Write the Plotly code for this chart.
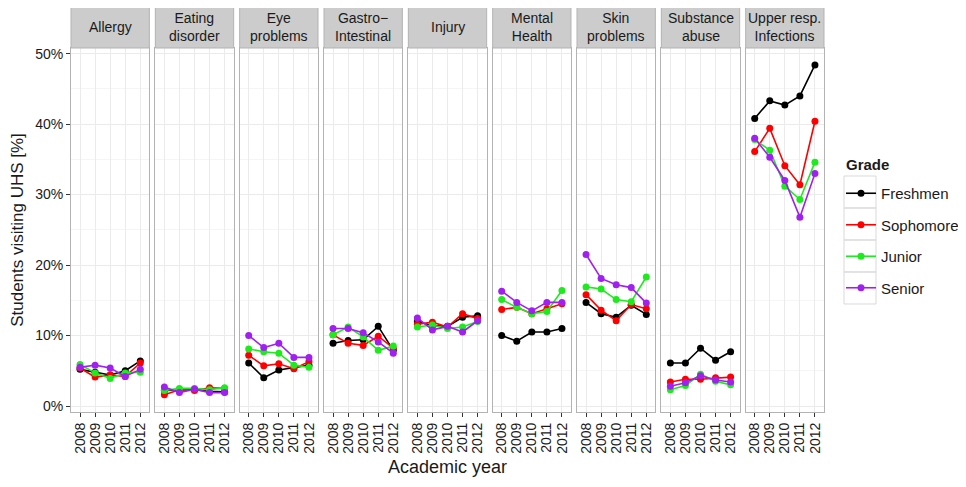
import plotly.graph_objects as go
from plotly.subplots import make_subplots

years = [2008, 2009, 2010, 2011, 2012]
year_labels = ["2008", "2009", "2010", "2011", "2012"]

categories = ["Allergy", "Eating<br>disorder", "Eye<br>problems", "Gastro\u2212<br>Intestinal",
              "Injury", "Mental<br>Health", "Skin<br>problems", "Substance<br>abuse",
              "Upper resp.<br>Infections"]

grades = ["Freshmen", "Sophomore", "Junior", "Senior"]
grade_colors = ["#000000", "#FF0000", "#1EEB1E", "#A020F0"]

# values in percent, one list per category, per grade
freshmen = [
    [5.2, 4.8, 4.4, 5.0, 6.4],
    [2.2, 2.2, 2.3, 2.1, 2.0],
    [6.1, 4.0, 5.1, 5.4, 5.8],
    [8.9, 9.3, 9.4, 11.3, 7.9],
    [12.0, 11.4, 11.3, 12.6, 12.8],
    [10.0, 9.2, 10.5, 10.5, 11.0],
    [14.7, 13.1, 12.6, 14.3, 13.0],
    [6.1, 6.1, 8.2, 6.5, 7.7],
    [40.8, 43.3, 42.7, 44.0, 48.4],
]
sophomore = [
    [5.4, 4.1, 4.4, 4.2, 6.1],
    [1.6, 2.3, 2.2, 2.6, 2.5],
    [7.2, 5.7, 6.0, 5.3, 6.3],
    [10.1, 8.9, 8.6, 9.9, 8.2],
    [11.6, 11.9, 11.2, 13.1, 12.4],
    [13.7, 14.0, 13.1, 13.8, 14.5],
    [15.8, 13.6, 12.1, 14.4, 13.8],
    [3.4, 3.8, 3.8, 4.0, 4.1],
    [36.1, 39.4, 34.1, 31.4, 40.4],
]
junior = [
    [5.9, 4.7, 3.9, 4.7, 4.8],
    [2.2, 2.5, 2.5, 2.3, 2.6],
    [8.1, 7.7, 7.5, 5.8, 5.5],
    [10.1, 11.2, 9.8, 7.9, 8.5],
    [11.2, 11.5, 11.0, 11.2, 12.0],
    [15.1, 14.0, 13.1, 13.4, 16.4],
    [16.9, 16.6, 15.1, 14.8, 18.3],
    [2.3, 2.9, 4.5, 3.5, 3.0],
    [37.8, 36.3, 31.2, 29.3, 34.6],
]
senior = [
    [5.5, 5.8, 5.4, 4.2, 5.2],
    [2.7, 1.9, 2.4, 1.9, 1.9],
    [10.0, 8.3, 8.9, 6.9, 6.9],
    [11.0, 11.0, 10.4, 9.1, 7.5],
    [12.5, 10.8, 11.3, 10.5, 12.1],
    [16.3, 14.7, 13.5, 14.7, 14.7],
    [21.5, 18.1, 17.2, 16.8, 14.6],
    [2.8, 3.3, 4.3, 3.7, 3.4],
    [38.0, 35.3, 32.0, 26.8, 33.0],
]
series = [freshmen, sophomore, junior, senior]

y_ticks = [0, 10, 20, 30, 40, 50]
y_tick_labels = ["0%", "10%", "20%", "30%", "40%", "50%"]

FONT = "Liberation Sans, Arial, Helvetica, sans-serif"
OFF = 8  # page body margin
W, H = 966 - OFF, 487 - OFF
# plot area in page coordinates: x 71..824, y 48..412
L = 71 - OFF
T = 48 - OFF
R = W - (824 - OFF)
B = H - (412 - OFF)
pw = W - L - R
ph = H - T - B
ncol = len(categories)


def px_x(x_page):
    return (x_page - OFF - L) / pw


def px_y(y_page):
    return 1 - (y_page - OFF - T) / ph


fig = make_subplots(rows=1, cols=ncol, shared_yaxes=True,
                    horizontal_spacing=6 / pw)

for gi, (gname, gcol, data) in enumerate(zip(grades, grade_colors, series)):
    for ci in range(ncol):
        fig.add_trace(go.Scatter(
            x=years, y=data[ci], mode="lines+markers",
            line=dict(color=gcol, width=1.6),
            marker=dict(color=gcol, size=7),
            name=gname, legendgroup=gname, showlegend=(ci == 0),
            hovertemplate="%{y:.1f}%<extra>" + gname + "</extra>",
        ), row=1, col=ci + 1)

for ci in range(ncol):
    fig.update_xaxes(
        row=1, col=ci + 1,
        range=[2007.4, 2012.6], tickvals=years, ticktext=year_labels,
        tickangle=-90, ticks="outside", ticklen=4, tickcolor="#333333",
        tickfont=dict(family=FONT, size=14, color="#1a1a1a"),
        showgrid=True, gridcolor="#ebebeb", gridwidth=1,
        showline=True, mirror=True, linecolor="#b3b3b3", linewidth=1,
        zeroline=False,
    )
    fig.update_yaxes(
        row=1, col=ci + 1,
        range=[-0.85, 50.8], tickvals=y_ticks, ticktext=y_tick_labels,
        ticks="outside" if ci == 0 else "", ticklen=4, tickcolor="#333333",
        tickfont=dict(family=FONT, size=14, color="#1a1a1a"),
        showgrid=True, gridcolor="#ebebeb", gridwidth=1,
        minor=dict(tickvals=[5, 15, 25, 35, 45], showgrid=True,
                   gridcolor="#f5f5f5", gridwidth=0.6, ticks=""),
        showline=True, mirror=True, linecolor="#b3b3b3", linewidth=1,
        zeroline=False,
    )

fig.update_yaxes(row=1, col=1, title=dict(text="Students visiting UHS [%]",
                 font=dict(family=FONT, size=17, color="#1a1a1a"), standoff=10))

# strip headers
strip_h = 41 / ph
for ci in range(ncol):
    xa = fig.layout["xaxis" + ("" if ci == 0 else str(ci + 1))]
    x0, x1 = xa.domain
    fig.add_shape(type="rect", xref="paper", yref="paper",
                  x0=x0, x1=x1, y0=1, y1=1 + strip_h,
                  fillcolor="#cccccc", line=dict(color="#b3b3b3", width=1))
    fig.add_annotation(xref="paper", yref="paper", x=(x0 + x1) / 2,
                       y=1 + strip_h / 2, text=categories[ci], showarrow=False,
                       font=dict(family=FONT, size=14, color="#1a1a1a"),
                       xanchor="center", yanchor="middle", align="center")

fig.add_annotation(xref="paper", yref="paper", x=0.5, y=px_y(467),
                   text="Academic year", showarrow=False,
                   font=dict(family=FONT, size=18, color="#1a1a1a"),
                   xanchor="center", yanchor="middle")

# legend title and key boxes (ggplot style)
fig.add_annotation(xref="paper", yref="paper", x=px_x(844), y=px_y(164),
                   text="<b>Grade</b>", showarrow=False,
                   font=dict(family=FONT, size=15, color="#1a1a1a"),
                   xanchor="left", yanchor="middle")
for i in range(len(grades)):
    fig.add_shape(type="rect", xref="paper", yref="paper",
                  x0=px_x(844), x1=px_x(876),
                  y0=px_y(176 + 32 * i), y1=px_y(176 + 32 * (i + 1)),
                  fillcolor="rgba(0,0,0,0)", line=dict(color="#d9d9d9", width=1),
                  layer="below")

fig.update_layout(
    width=W, height=H,
    margin=dict(l=L, r=R, t=T, b=B, autoexpand=False),
    paper_bgcolor="white", plot_bgcolor="white",
    font=dict(family=FONT, size=14, color="#1a1a1a"),
    legend=dict(
        xref="container", yref="container",
        x=(841 - OFF) / W, xanchor="left",
        y=1 - (177 - OFF) / H, yanchor="top",
        font=dict(family=FONT, size=15, color="#1a1a1a"),
        tracegroupgap=9, itemwidth=30,
        bgcolor="rgba(0,0,0,0)",
    ),
)

fig.write_html("out.html")
